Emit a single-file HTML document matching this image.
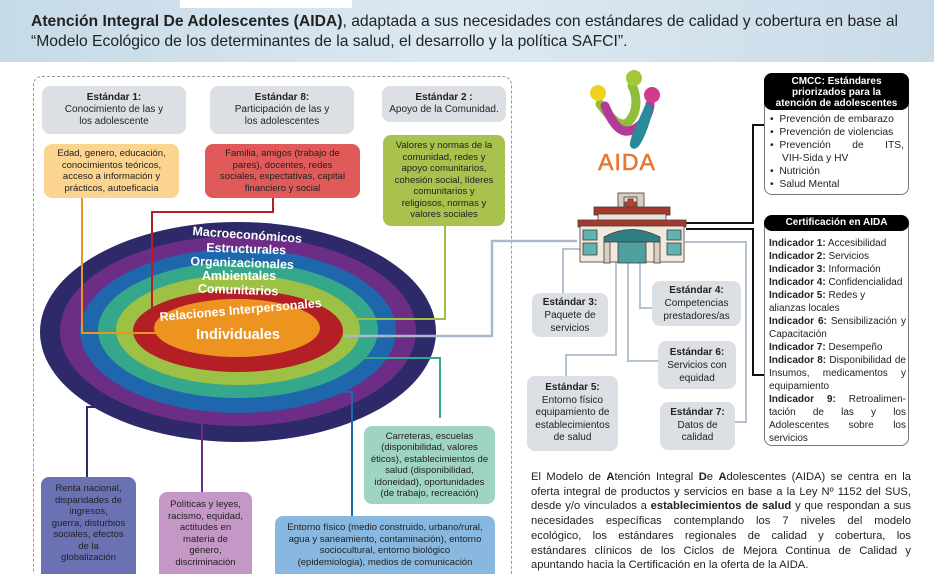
<!DOCTYPE html>
<html><head><meta charset="utf-8">
<style>
*{margin:0;padding:0;box-sizing:border-box}
html,body{width:934px;height:574px;overflow:hidden}
body{background:#fff;font-family:"Liberation Sans",sans-serif;color:#222;position:relative}
.a{position:absolute}
.box{position:absolute;border-radius:8px;text-align:center;font-size:10px;line-height:12px;display:flex;flex-direction:column;justify-content:center;align-items:center}
.g{background:#dcdfe4}
b{font-weight:bold}
.hd{position:absolute;background:#000;color:#fff;font-weight:bold;text-align:center;border-radius:8px 8px 0 0}
.rb{position:absolute;border:1.5px solid #777;border-radius:8px;background:#fff}
.pj div{text-align:justify;text-align-last:justify;white-space:nowrap}
</style></head><body>
<div class="a" style="left:0;top:0;width:934px;height:62px;background:linear-gradient(90deg,#c6dae8,#dde9f2 50%,#c9dbe8)"></div>
<div class="a" style="left:180px;top:0;width:172px;height:8px;background:#fff"></div>
<div class="a" style="left:31px;top:12px;width:890px;font-size:15.7px;line-height:20px;color:#222;white-space:nowrap"><b>Atención Integral De Adolescentes (AIDA)</b>, adaptada a sus necesidades con estándares de calidad y cobertura en base al<br>“Modelo Ecológico de los determinantes de la salud, el desarrollo y la política SAFCI”.</div>

<div class="a" style="left:33px;top:76px;width:479px;height:520px;border:1.5px dashed #999;border-radius:9px"></div>

<svg class="a" style="left:0;top:0" width="934" height="574">
<g>
<ellipse cx="238" cy="332" rx="198" ry="110" fill="#2e2a6a"/>
<ellipse cx="238" cy="331" rx="178" ry="95" fill="#6b2d86"/>
<ellipse cx="238" cy="331" rx="158" ry="82" fill="#1f67ad"/>
<ellipse cx="238" cy="330" rx="140" ry="68" fill="#35a78a"/>
<ellipse cx="238" cy="330" rx="122" ry="55" fill="#9cc144"/>
<ellipse cx="238" cy="331" rx="105" ry="41" fill="#b41f26"/>
<ellipse cx="237" cy="328" rx="83" ry="29" fill="#ec9320"/>
</g>
<g fill="none" stroke-width="2">
<polyline points="82,198 82,333 165,333" stroke="#ec9320"/>
<polyline points="273,198 273,212 152,212 152,325" stroke="#b41f26"/>
<polyline points="445,226 445,319 340,319" stroke="#9cc144"/>
<polyline points="345,336 492,336 492,241 577,241" stroke="#a9b9c9" stroke-width="2.5"/>
<polyline points="355,358 440,358 440,418" stroke="#35a78a"/>
<polyline points="312,392 352,392 352,517" stroke="#1f67ad"/>
<polyline points="202,423 202,492" stroke="#6b2d86"/>
<polyline points="113,407 87,407 87,478" stroke="#2e2a6a"/>
<g stroke="#b5c3d1" stroke-width="2">
<polyline points="580,249 563,249 563,293"/>
<polyline points="616,260 616,355 566,355 566,376"/>
<polyline points="628,260 628,361 658,361"/>
<polyline points="640,260 640,308 652,308"/>
<polyline points="685,242 746,242 746,422 735,422"/>
</g>
<g stroke="#111" stroke-width="2">
<polyline points="686,223 753,223 753,125 764,125"/>
<polyline points="686,229 753,229 753,375 764,375"/>
</g>
</g>
<g fill="#fff" font-weight="bold" font-size="12.5" text-anchor="middle" font-family="Liberation Sans,sans-serif">
<text x="247" y="239" transform="rotate(4 247 239)">Macroeconómicos</text>
<text x="246" y="253" transform="rotate(2 246 253)">Estructurales</text>
<text x="242" y="267" transform="rotate(2 242 267)">Organizacionales</text>
<text x="239" y="280">Ambientales</text>
<text x="238" y="294" transform="rotate(2 238 294)">Comunitarios</text>
<text x="241" y="314" transform="rotate(-5 241 314)">Relaciones Interpersonales</text>
<text x="238" y="339" font-size="14.5">Individuales</text>
</g>
<g>
<path d="M600,104 C612,120 622,130 630,120 C640,108 635,90 632,86" stroke="#8fbf3a" stroke-width="9" fill="none" stroke-linecap="round"/>
<path d="M605,106 C615,130 625,138 640,125 C648,118 650,108 650,104" stroke="#b43a9a" stroke-width="9" fill="none" stroke-linecap="round"/>
<path d="M648,106 C640,125 632,140 633,145 C636,150 645,130 650,110" stroke="#2a8a9a" stroke-width="6" fill="none" stroke-linecap="round"/>
<circle cx="598" cy="93" r="8" fill="#f0d020"/>
<circle cx="634" cy="78" r="8" fill="#a4c83a"/>
<circle cx="652" cy="95" r="8" fill="#d23a8a"/>
<text x="627" y="170" text-anchor="middle" font-size="23" fill="#e8762d" stroke="#e8762d" stroke-width="0.6" font-family="Liberation Sans,sans-serif" letter-spacing="1">AIDA</text>
</g>
<g stroke="#4a3a30" stroke-width="0.8">
<rect x="618" y="193" width="26" height="22" fill="#d8cfc4"/>
<rect x="624" y="197" width="13" height="12" fill="#e7dcd0"/>
<path d="M628,199h5v3h3v4h-3v3h-5v-3h-3v-4h3z" fill="#c93b33"/>
<rect x="594" y="207" width="76" height="8" fill="#a33a30"/>
<rect x="598" y="214" width="68" height="12" fill="#e9e3da"/>
<rect x="578" y="220" width="108" height="7" fill="#a33a30"/>
<rect x="580" y="226" width="104" height="36" fill="#efe9e0"/>
<rect x="583" y="230" width="14" height="10" fill="#5fb3b3"/><rect x="583" y="243" width="14" height="12" fill="#5fb3b3"/>
<rect x="667" y="230" width="14" height="10" fill="#5fb3b3"/><rect x="667" y="243" width="14" height="12" fill="#5fb3b3"/>
<path d="M604,237 Q631,222 660,237 L660,242 L604,242z" fill="#2f7f82"/>
<rect x="618" y="242" width="28" height="21" fill="#4f9ea0"/>
<rect x="604" y="242" width="6" height="21" fill="#d9cfc2"/><rect x="654" y="242" width="6" height="21" fill="#d9cfc2"/>
</g>
</svg>

<div class="box g" style="left:42px;top:86px;width:144px;height:48px"><b>Estándar 1:</b>Conocimiento de las y<br>los adolescente</div>
<div class="box g" style="left:210px;top:86px;width:144px;height:48px"><b>Estándar 8:</b>Participación de las y<br>los adolescentes</div>
<div class="box g" style="left:382px;top:86px;width:124px;height:36px"><b>Estándar 2 :</b>Apoyo de la Comunidad.</div>
<div class="box" style="left:44px;top:144px;width:135px;height:54px;background:#fbd48f;font-size:9.5px;line-height:11.5px">Edad, genero, educación,<br>conocimientos teóricos,<br>acceso a información y<br>prácticos, autoeficacia</div>
<div class="box" style="left:205px;top:144px;width:155px;height:54px;background:#e05a5a;font-size:9.5px;line-height:11.5px">Familia, amigos (trabajo de<br>pares), docentes, redes<br>sociales, expectativas, capital<br>financiero y social</div>
<div class="box" style="left:383px;top:135px;width:122px;height:91px;background:#a8c24d;font-size:9.5px;line-height:11.5px">Valores y normas de la<br>comunidad, redes y<br>apoyo comunitarios,<br>cohesión social, líderes<br>comunitarios y<br>religiosos, normas y<br>valores sociales</div>

<div class="box" style="left:41px;top:477px;width:95px;height:110px;background:#6a72b4;font-size:9.5px;line-height:11.5px;justify-content:flex-start;padding-top:6px">Renta nacional,<br>disparidades de<br>ingresos,<br>guerra, disturbios<br>sociales, efectos<br>de la<br>globalización</div>
<div class="box" style="left:159px;top:492px;width:93px;height:90px;background:#c497c6;font-size:9.5px;line-height:11.5px;justify-content:flex-start;padding-top:7px">Políticas y leyes,<br>racismo, equidad,<br>actitudes en<br>materia de<br>género,<br>discriminación</div>
<div class="box" style="left:275px;top:516px;width:220px;height:64px;background:#88b8e0;font-size:9.5px;line-height:11.5px;justify-content:flex-start;padding-top:6px">Entorno físico (medio construido, urbano/rural,<br>agua y saneamiento, contaminación), entorno<br>sociocultural, entorno biológico<br>(epidemiologia), medios de comunicación</div>
<div class="box" style="left:364px;top:426px;width:131px;height:78px;background:#9fd3c2;font-size:9.5px;line-height:11.5px">Carreteras, escuelas<br>(disponibilidad, valores<br>éticos), establecimientos de<br>salud (disponibilidad,<br>idoneidad), oportunidades<br>(de trabajo, recreación)</div>

<div class="box g" style="left:532px;top:293px;width:76px;height:44px;font-size:10px;line-height:13px"><b>Estándar 3:</b>Paquete de<br>servicios</div>
<div class="box g" style="left:652px;top:281px;width:89px;height:45px;font-size:10px;line-height:13px"><b>Estándar 4:</b>Competencias<br>prestadores/as</div>
<div class="box g" style="left:658px;top:341px;width:78px;height:48px;font-size:10px;line-height:13px"><b>Estándar 6:</b>Servicios con<br>equidad</div>
<div class="box g" style="left:527px;top:376px;width:91px;height:75px;font-size:10px;line-height:12.5px"><b>Estándar 5:</b>Entorno físico<br>equipamiento de<br>establecimientos<br>de salud</div>
<div class="box g" style="left:660px;top:402px;width:75px;height:48px;font-size:10px;line-height:12.5px"><b>Estándar 7:</b>Datos de<br>calidad</div>

<div class="rb" style="left:764px;top:73px;width:145px;height:122px"></div>
<div class="hd" style="left:764px;top:73px;width:145px;height:37px;font-size:10px;line-height:11px;padding-top:3px;border-radius:8px">CMCC: Estándares<br>priorizados para la<br>atención de adolescentes</div>
<div class="a" style="left:770px;top:113px;width:134px;font-size:10.3px;line-height:13px">
<div>• &nbsp;Prevención de embarazo</div>
<div>• &nbsp;Prevención de violencias</div>
<div style="display:flex;justify-content:space-between"><span>• &nbsp;Prevención</span><span>de</span><span>ITS,</span></div>
<div style="padding-left:12px">VIH-Sida y HV</div>
<div>• &nbsp;Nutrición</div>
<div>• &nbsp;Salud Mental</div>
</div>

<div class="rb" style="left:764px;top:215px;width:145px;height:231px"></div>
<div class="hd" style="left:764px;top:215px;width:145px;height:16px;font-size:10px;line-height:16px;border-radius:8px">Certificación en AIDA</div>
<div class="a" style="left:769px;top:237px;width:137px;font-size:10px;line-height:13px;text-align:justify;text-align-last:left">
<b>Indicador 1:</b> Accesibilidad<br><b>Indicador 2:</b> Servicios<br><b>Indicador 3:</b> Información<br><b>Indicador 4:</b> Confidencialidad<br><b>Indicador 5:</b> Redes y<br>alianzas locales<br>
<div style="text-align:justify;text-align-last:auto"><b>Indicador 6:</b> Sensibilización y Capacitación</div>
<b>Indicador 7:</b> Desempeño
<div style="text-align:justify"><b>Indicador 8:</b> Disponibilidad de Insumos, medicamentos y equipamiento</div>
<div style="text-align:justify"><b>Indicador 9:</b> Retroalimen-tación de las y los Adolescentes sobre los servicios</div>
</div>

<div class="a pj" style="left:531px;top:470px;width:380px;font-size:11.2px;line-height:14.7px;color:#222">
<div>El Modelo de <b>A</b>tención Integral <b>D</b>e <b>A</b>dolescentes (AIDA) se centra en la</div>
<div>oferta integral de productos y servicios en base a la Ley Nº 1152 del SUS,</div>
<div>desde y/o vinculados a <b>establecimientos de salud</b> y que respondan a sus</div>
<div>necesidades específicas contemplando los 7 niveles del modelo</div>
<div>ecológico, los estándares regionales de calidad y cobertura, los</div>
<div>estándares clínicos de los Ciclos de Mejora Continua de Calidad y</div>
<div style="text-align-last:left">apuntando hacia la Certificación en la oferta de la AIDA.</div>
</div>
</body></html>
